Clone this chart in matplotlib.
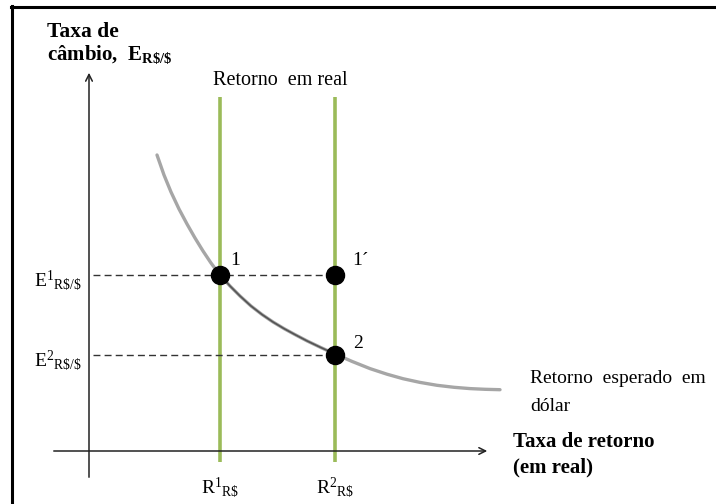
import matplotlib
matplotlib.use('Agg')
import matplotlib.pyplot as plt
from matplotlib.lines import Line2D

plt.rcParams['font.family'] = ['Liberation Serif', 'DejaVu Serif']
plt.rcParams['mathtext.fontset'] = 'custom'
plt.rcParams['mathtext.rm'] = 'Liberation Serif'
plt.rcParams['mathtext.it'] = 'Liberation Serif:italic'
plt.rcParams['mathtext.bf'] = 'Liberation Serif:bold'

# taxas de retorno em real (R1, R2) e taxas de cambio de equilibrio (E1, E2)
R_real = [131, 246]
E_cambio = [176, 96]
r_labels = [r'R$^{1}$$_{\mathregular{R\$}}$', r'R$^{2}$$_{\mathregular{R\$}}$']
e_labels = [r'E$^{1}$$_{\mathregular{R\$/\$}}$', r'E$^{2}$$_{\mathregular{R\$/\$}}$']

# curva do retorno esperado em dolar
curva_x = [68, 75, 82, 90, 98, 106, 114, 122, 131, 141, 151, 162, 173, 184, 195,
           206, 218, 232, 246, 263, 281, 298, 314, 331, 348, 365, 381, 396, 411]
curva_y = [296, 276, 259, 242, 227, 213, 200, 188, 176, 165, 155, 145, 136.5, 129,
           122.4, 116.4, 110.1, 103.4, 97, 89.6, 82.4, 76.8, 72.3, 68.6, 65.7, 63.7,
           62.4, 61.7, 61.3]

fig = plt.figure(figsize=(7.16, 5.04), dpi=100)
ax = fig.add_axes([0, 0, 1, 1])
ax.set_xlim(-89, 627)
ax.set_ylim(-53, 451)
ax.axis('off')

# moldura
fig.add_artist(Line2D([12 / 716, 12 / 716], [0, 1 - 6 / 504], color='black', lw=2.2,
                      transform=fig.transFigure))
fig.add_artist(Line2D([11 / 716, 1], [1 - 7 / 504, 1 - 7 / 504], color='black', lw=2.2,
                      transform=fig.transFigure))

# eixos
ax.annotate('', xy=(0, 381), xytext=(0, -29),
            arrowprops=dict(arrowstyle='->', color='#222222', lw=1.1, mutation_scale=12))
ax.annotate('', xy=(401, 0), xytext=(-38, 0),
            arrowprops=dict(arrowstyle='->', color='#222222', lw=1.1, mutation_scale=12))

# retorno em real (verticais)
for r in R_real:
    ax.plot([r, r], [-11, 354], color='#9bbb59', lw=2.6, solid_capstyle='butt', zorder=2)

# curva
ax.plot(curva_x, curva_y, color='#a6a6a6', lw=2.4, solid_capstyle='round',
        solid_joinstyle='round', zorder=3)
i0, i1 = curva_x.index(R_real[0]), curva_x.index(R_real[1])
ax.plot(curva_x[i0:i1 + 1], curva_y[i0:i1 + 1], color='#555555', lw=1.2,
        solid_joinstyle='round', zorder=3)

# linhas tracejadas
for e in E_cambio:
    ax.plot([4, R_real[1]], [e, e], color='#333333', lw=1.0, ls=(0, (5, 3)), zorder=2)

# pontos de equilibrio
pts_x = [R_real[0], R_real[1], R_real[1]]
pts_y = [E_cambio[0], E_cambio[0], E_cambio[1]]
ax.plot(pts_x, pts_y, 'o', color='black', ms=13, zorder=5)
ax.text(R_real[0] + 10, E_cambio[0] + 10, '1', fontsize=14, va='baseline')
ax.text(R_real[1] + 17, E_cambio[0] + 10, '1´', fontsize=14, va='baseline')
ax.text(R_real[1] + 18, E_cambio[1] + 7, '2', fontsize=14, va='baseline')

# rotulos dos eixos
for e, lab in zip(E_cambio, e_labels):
    ax.text(-7, e - 11, lab, fontsize=14, ha='right', va='baseline')
for r, lab in zip(R_real, r_labels):
    ax.text(r, -42, lab, fontsize=14, ha='center', va='baseline')

ax.text(-42, 414, 'Taxa de', fontsize=15.5, fontweight='bold', va='baseline')
ax.text(-42, 391, r'câmbio,  E$_{\mathbf{R\$/\$}}$', fontsize=15, fontweight='bold',
        va='baseline')
ax.text(124, 366, 'Retorno  em real', fontsize=14.5, va='baseline')
ax.text(441, 68, 'Retorno  esperado  em', fontsize=14, va='baseline')
ax.text(441, 40, 'dólar', fontsize=14, va='baseline')
ax.text(424, 4, 'Taxa de retorno', fontsize=15, fontweight='bold', va='baseline')
ax.text(424, -21, '(em real)', fontsize=15, fontweight='bold', va='baseline')

fig.savefig('out.png', dpi=100)
